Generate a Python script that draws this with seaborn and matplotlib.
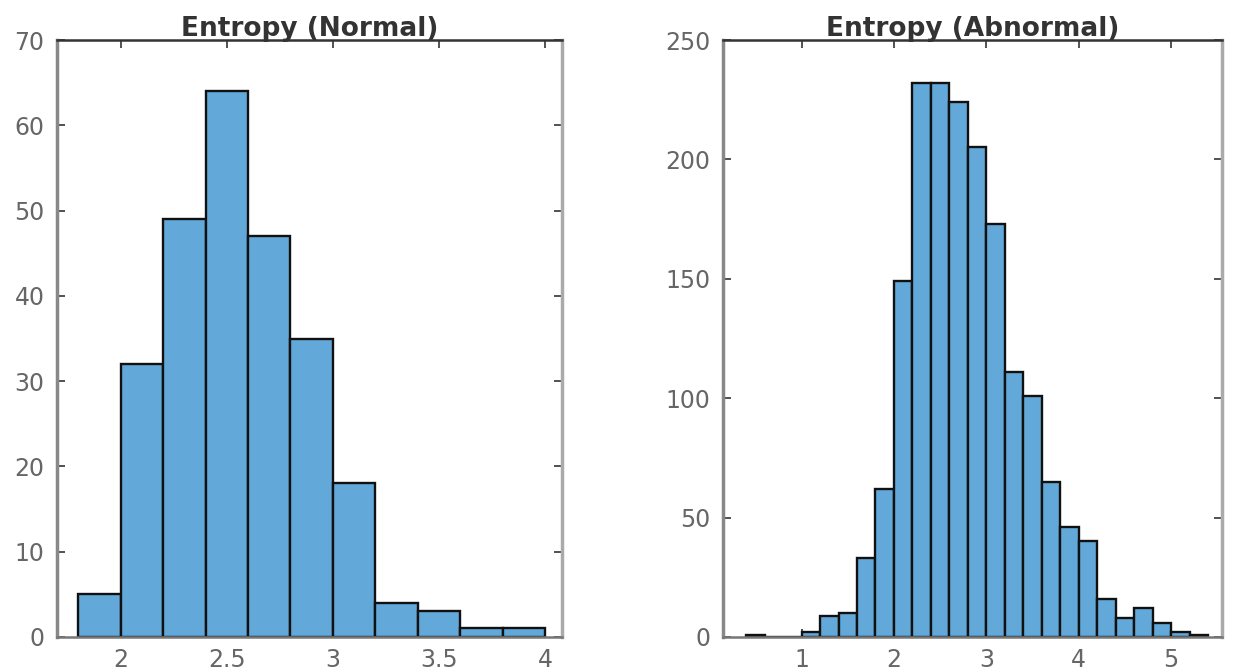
import matplotlib
matplotlib.use("Agg")
import matplotlib.pyplot as plt
import numpy as np
import pandas as pd
import seaborn as sns
from matplotlib.ticker import FuncFormatter

# data (bin width 0.2)
normal_edges = [1.8, 2.0, 2.2, 2.4, 2.6, 2.8, 3.0, 3.2, 3.4, 3.6, 3.8, 4.0]
normal_counts = [5, 32, 49, 64, 47, 35, 18, 4, 3, 1, 1]

abnormal_edges = [0.4, 0.6, 0.8, 1.0, 1.2, 1.4, 1.6, 1.8, 2.0, 2.2, 2.4, 2.6, 2.8,
                  3.0, 3.2, 3.4, 3.6, 3.8, 4.0, 4.2, 4.4, 4.6, 4.8, 5.0, 5.2, 5.4]
abnormal_counts = [1, 0, 0, 2, 9, 10, 33, 62, 149, 232, 232, 224, 205,
                   173, 111, 101, 65, 46, 40, 16, 8, 12, 6, 2, 1]

sns.set_theme(style="white")
plt.rcParams["font.family"] = ["DejaVu Sans"]

BAR = "#62A8D8"
AXC = "#333333"
TXT = "#666666"

fig = plt.figure(figsize=(12.35, 6.71), dpi=100)
ax1 = fig.add_axes([57 / 1235, 1 - 637 / 671, (562 - 57) / 1235, (637 - 40) / 671])
ax2 = fig.add_axes([723 / 1235, 1 - 637 / 671, (1222 - 723) / 1235, (637 - 40) / 671])


def draw(ax, edges, counts, title, xlim, ylim, xticks, yticks):
    e = np.array(edges)
    df = pd.DataFrame({"x": (e[:-1] + e[1:]) / 2, "n": counts})
    sns.histplot(data=df, x="x", weights="n", bins=list(edges), ax=ax, color=BAR,
                 alpha=1, edgecolor="#111111", linewidth=1.7)
    ax.set_xlim(*xlim)
    ax.set_ylim(*ylim)
    ax.set_xticks(xticks)
    ax.set_yticks(yticks)
    ax.xaxis.set_major_formatter(FuncFormatter(lambda v, p: f"{v:g}"))
    ax.set_xlabel("")
    ax.set_ylabel("")
    ax.set_title(title, fontsize=19, fontweight="bold", color="#333333", pad=3)
    ax.tick_params(direction="in", length=6, width=1.2, colors=AXC, labelcolor=TXT,
                   labelsize=17, top=True, right=True, bottom=True, left=True)
    ax.tick_params(axis="x", pad=8)
    ax.tick_params(axis="y", pad=9)
    for s in ax.spines.values():
        s.set_color(AXC)
        s.set_linewidth(1.8)
    ax.spines["left"].set_color("#888888")
    ax.spines["left"].set_linewidth(2.5)
    ax.spines["bottom"].set_color("#777777")
    ax.spines["right"].set_color("#aaaaaa")
    ax.spines["right"].set_linewidth(2.5)


draw(ax1, normal_edges, normal_counts, "Entropy (Normal)", (1.7, 4.08), (0, 70),
     [2, 2.5, 3, 3.5, 4], [0, 10, 20, 30, 40, 50, 60, 70])
draw(ax2, abnormal_edges, abnormal_counts, "Entropy (Abnormal)", (0.15, 5.55), (0, 250),
     [1, 2, 3, 4, 5], [0, 50, 100, 150, 200, 250])

fig.savefig("out.png", dpi=100)
